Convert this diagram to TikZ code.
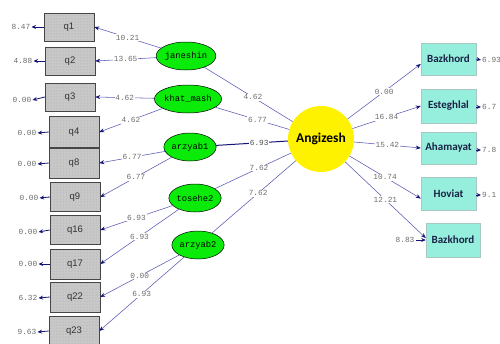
\documentclass[tikz,border=0pt]{standalone}
\usepackage{fontspec}
\setmainfont{Liberation Sans}
\newfontfamily\monofont{Liberation Mono}
\newfontfamily\calfont{Carlito}
\usetikzlibrary{shapes.geometric,arrows.meta,patterns}

\definecolor{pathblue}{RGB}{90,90,180}
\definecolor{tipnavy}{RGB}{20,20,120}
\definecolor{lblgray}{RGB}{110,110,110}
\definecolor{boxgray}{RGB}{200,200,200}
\definecolor{dotgray}{RGB}{165,165,165}
\definecolor{obsedge}{RGB}{70,70,70}
\definecolor{latgreen}{RGB}{10,235,10}
\definecolor{aqua}{RGB}{150,238,220}
\definecolor{indedge}{RGB}{170,200,195}
\definecolor{textnavy}{RGB}{25,35,70}

\tikzset{
  obs/.style={draw=obsedge, line width=0.5pt, preaction={fill=boxgray},
    pattern=dots, pattern color=dotgray, minimum width=50pt,
    minimum height=29pt, inner sep=0pt, text=black!80,
    font=\fontsize{9.5}{10}\selectfont},
  fac/.style={ellipse, draw=black, line width=0.5pt, fill=latgreen,
    minimum width=52pt, minimum height=28pt, inner sep=0pt,
    font=\monofont\fontsize{8.8}{9}\selectfont},
  ind/.style={draw=indedge, line width=0.5pt, fill=aqua,
    minimum width=55pt, minimum height=32pt, inner sep=0pt,
    text=textnavy, font=\calfont\bfseries\fontsize{11}{12}\selectfont},
  core/.style={circle, fill=yellow, minimum size=66pt, inner sep=0pt,
    font=\calfont\bfseries\fontsize{13.5}{15}\selectfont},
  lbl/.style={font=\monofont\fontsize{7.8}{8}\selectfont, text=lblgray,
    fill=white, inner sep=0.8pt},
  errv/.style={font=\monofont\fontsize{7.8}{8}\selectfont, text=lblgray,
    inner sep=1pt},
  pth/.style={draw=pathblue, line width=0.55pt,
    -{Stealth[length=5pt,width=4pt,color=tipnavy]}},
  lnk/.style={draw=pathblue, line width=0.55pt},
  errarr/.style={draw=tipnavy, line width=0.8pt,
    -{Stealth[length=4.5pt,width=4pt,color=tipnavy]}},
}

\begin{document}
\begin{tikzpicture}[x=1pt,y=-1pt]
\useasboundingbox (0,0) rectangle (500,343);
\fill[white] (0,0) rectangle (500,343);

% observed items
\node[obs, minimum height=28pt] (q1)  at (69,27)  {q1};
\node[obs, minimum height=28pt] (q2)  at (70,61)  {q2};
\node[obs, minimum height=28pt] (q3)  at (70,97)  {q3};
\node[obs, minimum height=31pt] (q4)  at (74,132) {q4};
\node[obs, minimum height=30pt] (q8)  at (74,163) {q8};
\node[obs] (q9)  at (75,197) {q9};
\node[obs] (q16) at (75,230) {q16};
\node[obs, minimum height=30pt] (q17) at (75,264) {q17};
\node[obs, minimum height=30pt] (q22) at (75,297) {q22};
\node[obs, minimum height=30pt] (q23) at (74,331) {q23};
\foreach \n in {q1,q2,q3,q4,q8,q9,q16,q17,q22,q23}
  \draw[obsedge, line width=1.1pt] (\n.south west) -- (\n.south east);

% error variances of the items
\node[errv] (e1)  at (21,27)  {8.47};
\node[errv] (e2)  at (23,61)  {4.88};
\node[errv] (e3)  at (22,100) {0.00};
\node[errv] (e4)  at (27,133) {0.00};
\node[errv] (e5)  at (27,164) {0.00};
\node[errv] (e6)  at (29,198) {0.00};
\node[errv] (e7)  at (28,232) {0.00};
\node[errv] (e8)  at (28,264) {0.00};
\node[errv] (e9)  at (28,298) {6.32};
\node[errv] (e10) at (27,332) {9.63};
\draw[errarr] (q1.west)  -- (e1.east);
\draw[errarr] (q2.west)  -- (e2.east);
\draw[errarr] (q3.west)  -- (e3.east);
\draw[errarr] (q4.west)  -- (e4.east);
\draw[errarr] (q8.west)  -- (e5.east);
\draw[errarr] (q9.west)  -- (e6.east);
\draw[errarr] (q16.west) -- (e7.east);
\draw[errarr] (q17.west) -- (e8.east);
\draw[errarr] (q22.west) -- (e9.east);
\draw[errarr] (q23.west) -- (e10.east);

% first-order factors
\node[fac] (jan) at (186,56)  {janeshin};
\node[fac] (kha) at (188,99)  {khat\_mash};
\node[fac] (ar1) at (190,147) {arzyab1};
\node[fac] (tos) at (195,198) {tosehe2};
\node[fac] (ar2) at (198,245) {arzyab2};

% second-order factor
\node[core] (ang) at (321,139) {Angizesh};

% right-hand indicators
\node[ind] (b1) at (448.5,59)  {Bazkhord};
\node[ind, minimum height=34pt] (b2) at (448.5,106) {Esteghlal};
\node[ind] (b3) at (448.5,148) {Ahamayat};
\node[ind, minimum height=33pt] (b4) at (448.5,193.5) {Hoviat};
\node[ind, minimum width=54pt, minimum height=34pt] (b5) at (453,240) {Bazkhord};

% loadings of the items
\draw[pth] (jan) -- node[lbl] (w1)  {10.21} (q1.east);
\draw[pth] (jan) -- node[lbl] (w2)  {13.65} (q2.east);
\draw[pth] (kha) -- node[lbl] (w3)  {4.62}  (q3.east);
\draw[pth] (kha) -- node[lbl] (w4)  {4.62}  (q4.east);
\draw[pth] (ar1) -- node[lbl] (w5)  {6.77}  (q8.east);
\draw[pth] (ar1) -- node[lbl] (w6)  {6.77}  (q9.east);
\draw[pth] (tos) -- node[lbl] (w7)  {6.93}  (q16.east);
\draw[pth] (tos) -- node[lbl] (w8)  {6.93}  (q17.east);
\draw[pth] (ar2) -- node[lbl] (w9)  {0.00}  (q22.east);
\draw[pth] (ar2) -- node[lbl] (w10) {6.93}  (q23.east);

% factors to Angizesh
\draw[lnk] (jan) -- node[lbl, pos=0.55] (s1) {4.62} (ang);
\draw[lnk] (kha) -- node[lbl, pos=0.57] (s2) {6.77} (ang);
\draw[draw=tipnavy, line width=1pt] (ar1) -- node[lbl, pos=0.6, text=black!70] (s3) {6.93} (ang);
\draw[lnk] (tos) -- node[lbl, pos=0.58] (s4) {7.62} (ang);
\draw[lnk] (ar2) -- node[lbl, pos=0.55] (s5) {7.62} (ang);

% Angizesh to the indicators
\draw[pth] (ang) -- node[lbl] (r1) {0.00}  ([yshift=-5pt]b1.west);
\draw[pth] (ang) -- node[lbl] (r2) {16.84} (b2.west);
\draw[pth] (ang) -- node[lbl] (r3) {15.42} (b3.west);
\draw[pth] (ang) -- node[lbl] (r4) {10.74} ([yshift=-5pt]b4.west);
\draw[pth] (ang) -- node[lbl] (r5) {12.21} ([yshift=2pt]b5.west);

% error variances of the indicators
\node[errv, anchor=west] (re1) at (481,60)  {6.93};
\node[errv, anchor=west] (re2) at (481,107) {6.7};
\node[errv, anchor=west] (re3) at (481,150) {7.8};
\node[errv, anchor=west] (re4) at (481,195) {9.1};
\node[errv] (re5) at (405,240) {8.83};
\draw[errarr] (b1.east) -- (re1.west);
\draw[errarr] ([yshift=-1pt]b2.east) -- (re2.west);
\draw[errarr] ([yshift=-2pt]b3.east) -- (re3.west);
\draw[errarr] ([yshift=-1.5pt]b4.east) -- (re4.west);
\draw[errarr] (re5.east) -- (b5.west);
\end{tikzpicture}
\end{document}
